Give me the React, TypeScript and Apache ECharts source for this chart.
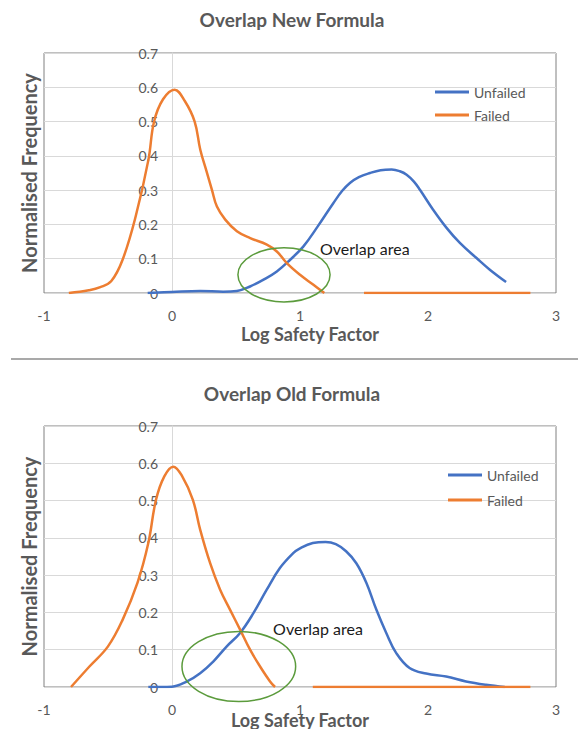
import { useEffect, useRef } from 'react';
import * as echarts from 'echarts';

// x ticks of the log safety factor axis
const xTicks = [-1, 0, 1, 2, 3];
const yTicks = [0, 0.1, 0.2, 0.3, 0.4, 0.5, 0.6, 0.7];

// New formula: normalised frequency density curves
const newUnfailed: [number, number][] = [
  [-0.19, 0], [0.0, 0.003], [0.22, 0.006], [0.4, 0.004], [0.507, 0.006], [0.61, 0.019],
  [0.715, 0.039], [0.819, 0.063], [0.923, 0.097], [1.027, 0.136], [1.14, 0.195],
  [1.26, 0.262], [1.33, 0.298], [1.39, 0.321], [1.46, 0.338], [1.547, 0.35],
  [1.63, 0.358], [1.716, 0.36], [1.78, 0.355], [1.833, 0.345], [1.89, 0.325],
  [1.937, 0.301], [2.04, 0.243], [2.145, 0.19], [2.249, 0.146], [2.379, 0.102],
  [2.483, 0.068], [2.61, 0.032],
];
const newFailed: [number, number | string][] = [
  [-0.806, 0], [-0.65, 0.008], [-0.56, 0.017], [-0.474, 0.035], [-0.386, 0.097],
  [-0.284, 0.223], [-0.184, 0.389], [-0.14, 0.5], [-0.07, 0.565], [0.02, 0.593],
  [0.1, 0.56], [0.177, 0.5], [0.221, 0.418], [0.27, 0.355], [0.312, 0.301],
  [0.351, 0.252], [0.416, 0.214], [0.507, 0.18], [0.611, 0.16], [0.741, 0.141],
  [0.819, 0.121], [0.897, 0.087], [1.0, 0.053], [1.105, 0.024], [1.19, 0],
  [1.35, '-'], [1.5, 0], [2.8, 0],
];

// Old formula: normalised frequency density curves
const oldUnfailed: [number, number][] = [
  [-0.185, 0], [0.0, 0.001], [0.117, 0.015], [0.22, 0.037], [0.324, 0.069],
  [0.428, 0.109], [0.532, 0.145], [0.636, 0.198], [0.74, 0.261], [0.843, 0.319],
  [0.947, 0.359], [1.0, 0.372], [1.1, 0.386], [1.2, 0.389], [1.28, 0.383],
  [1.36, 0.364], [1.44, 0.332], [1.519, 0.279], [1.597, 0.207], [1.674, 0.145],
  [1.752, 0.091], [1.856, 0.051], [1.986, 0.036], [2.142, 0.028], [2.297, 0.015],
  [2.453, 0.006], [2.6, 0],
];
const oldFailed: [number, number | string][] = [
  [-0.789, 0], [-0.645, 0.055], [-0.5, 0.109], [-0.386, 0.18], [-0.27, 0.279],
  [-0.185, 0.386], [-0.125, 0.502], [-0.06, 0.565], [0.01, 0.591], [0.08, 0.565],
  [0.163, 0.502], [0.22, 0.422], [0.298, 0.332], [0.376, 0.261], [0.454, 0.207],
  [0.532, 0.154], [0.61, 0.1], [0.688, 0.055], [0.766, 0.015], [0.805, 0],
  [0.95, '-'], [1.1, 0], [2.8, 0],
];

const seriesNames = ['Unfailed', 'Failed'];
const chartTitles = ['Overlap New Formula', 'Overlap Old Formula'];
const overlapLabel = 'Overlap area';

// Overlap ellipses, in data units of each panel: centre, radii and label anchor
const overlapRings = [
  { cx: 0.875, cy: 0.053, rx: 0.36, ry: 0.079, tx: 1.156, ty: 0.129 },
  { cx: 0.522, cy: 0.055, rx: 0.444, ry: 0.094, tx: 0.79, ty: 0.156 },
];

const FONT = 'Lato, "Open Sans", sans-serif';
const TEXT = '#595959';
const BLUE = '#4472C4';
const ORANGE = '#ED7D31';
const GREEN = '#5B9B3C';

export default function App() {
  const ref = useRef<HTMLDivElement>(null);

  useEffect(() => {
    if (!ref.current) return;
    const chart = echarts.init(ref.current, undefined, { renderer: 'svg' });

    // the y axis line crosses at x = 0; its labels sit just left of that line
    const yAxis = (gridIndex: number) => ({
      type: 'value',
      gridIndex,
      min: yTicks[0],
      max: yTicks[yTicks.length - 1],
      interval: 0.1,
      name: 'Normalised Frequency',
      nameLocation: 'middle',
      nameGap: 5,
      nameTextStyle: { fontFamily: FONT, fontSize: 20, fontWeight: 'bold', color: TEXT },
      axisLine: { show: true, onZero: true, lineStyle: { color: '#d9d9d9', width: 1 } },
      axisTick: { show: false },
      axisLabel: {
        fontFamily: FONT,
        fontSize: 14,
        color: TEXT,
        margin: -114,
        formatter: (v: number) => (v === 0 ? '0' : v.toFixed(1)),
      },
      splitLine: { show: true, lineStyle: { color: '#d9d9d9', width: 1 } },
    });

    const xAxis = (gridIndex: number, nameGap: number, shift: number) => ({
      type: 'value',
      gridIndex,
      min: xTicks[0],
      max: xTicks[xTicks.length - 1],
      interval: 1,
      name: 'Log Safety Factor',
      nameLocation: 'middle',
      nameGap,
      nameMoveOverlap: false,
      nameTextStyle: {
        fontFamily: FONT,
        fontSize: 18,
        fontWeight: 'bold',
        color: TEXT,
        padding: [0, 0, 0, shift],
      },
      axisLine: { show: false },
      axisTick: { show: false },
      splitLine: { show: false },
      axisLabel: { fontFamily: FONT, fontSize: 14, color: TEXT, margin: 15 },
    });

    const line = (name: string, color: string, idx: number, data: any[]) => ({
      type: 'line',
      name,
      xAxisIndex: idx,
      yAxisIndex: idx,
      data,
      smooth: 0.4,
      symbol: 'none',
      connectNulls: false,
      lineStyle: { color, width: 2.5 },
      itemStyle: { color },
      z: 3,
    });

    const legend = (left: number, top: number, itemGap: number) => ({
      data: seriesNames,
      orient: 'vertical',
      left,
      top,
      padding: 0,
      icon: 'rect',
      itemWidth: 34,
      itemHeight: 3,
      itemGap,
      textStyle: { fontFamily: FONT, fontSize: 14, lineHeight: 14, color: TEXT },
    });

    const grid = (top: number, height: number) => ({
      left: 44,
      top,
      width: 512,
      height,
      show: true,
      borderColor: '#808080',
      borderWidth: 1,
      outerBoundsMode: 'none',
      containLabel: false,
    });

    chart.setOption({
      animation: false,
      backgroundColor: '#ffffff',
      grid: [grid(53, 240), grid(426, 261)],
      xAxis: [xAxis(0, 32, 20), xAxis(1, 24, 0)],
      yAxis: [yAxis(0), yAxis(1)],
      legend: [legend(435, 85, 9), legend(448, 468, 11)],
      series: [
        line(seriesNames[0], BLUE, 0, newUnfailed),
        line(seriesNames[1], ORANGE, 0, newFailed),
        line(seriesNames[0], BLUE, 1, oldUnfailed),
        line(seriesNames[1], ORANGE, 1, oldFailed),
      ],
    });

    // annotations placed through each panel's own coordinate system
    const graphics: any[] = [];
    overlapRings.forEach((r, gridIndex) => {
      const c = chart.convertToPixel({ gridIndex }, [r.cx, r.cy]) as number[];
      const e = chart.convertToPixel({ gridIndex }, [r.cx + r.rx, r.cy + r.ry]) as number[];
      const t = chart.convertToPixel({ gridIndex }, [r.tx, r.ty]) as number[];
      graphics.push({
        type: 'ellipse',
        shape: { cx: c[0], cy: c[1], rx: e[0] - c[0], ry: c[1] - e[1] },
        style: { fill: 'none', stroke: GREEN, lineWidth: 1.5 },
        z: 10,
      });
      graphics.push({
        type: 'text',
        x: t[0],
        y: t[1],
        style: {
          text: overlapLabel,
          fontFamily: FONT,
          fontSize: 16,
          fill: '#1a1a1a',
          align: 'left',
          verticalAlign: 'middle',
        },
        z: 10,
      });
    });
    [19, 393].forEach((y, i) => {
      graphics.push({
        type: 'text',
        x: 292,
        y,
        style: {
          text: chartTitles[i],
          fontFamily: FONT,
          fontSize: 19,
          fontWeight: 'bold',
          fill: TEXT,
          align: 'center',
          verticalAlign: 'middle',
        },
      });
    });
    graphics.push({
      type: 'line',
      shape: { x1: 11, y1: 359, x2: 578, y2: 359 },
      style: { stroke: '#8c8c8c', lineWidth: 1.5 },
    });
    chart.setOption({ graphic: graphics });

    return () => chart.dispose();
  }, []);

  return (
    <div
      ref={ref}
      style={{ position: 'fixed', left: 0, top: 0, width: 578, height: 729 }}
    />
  );
}
